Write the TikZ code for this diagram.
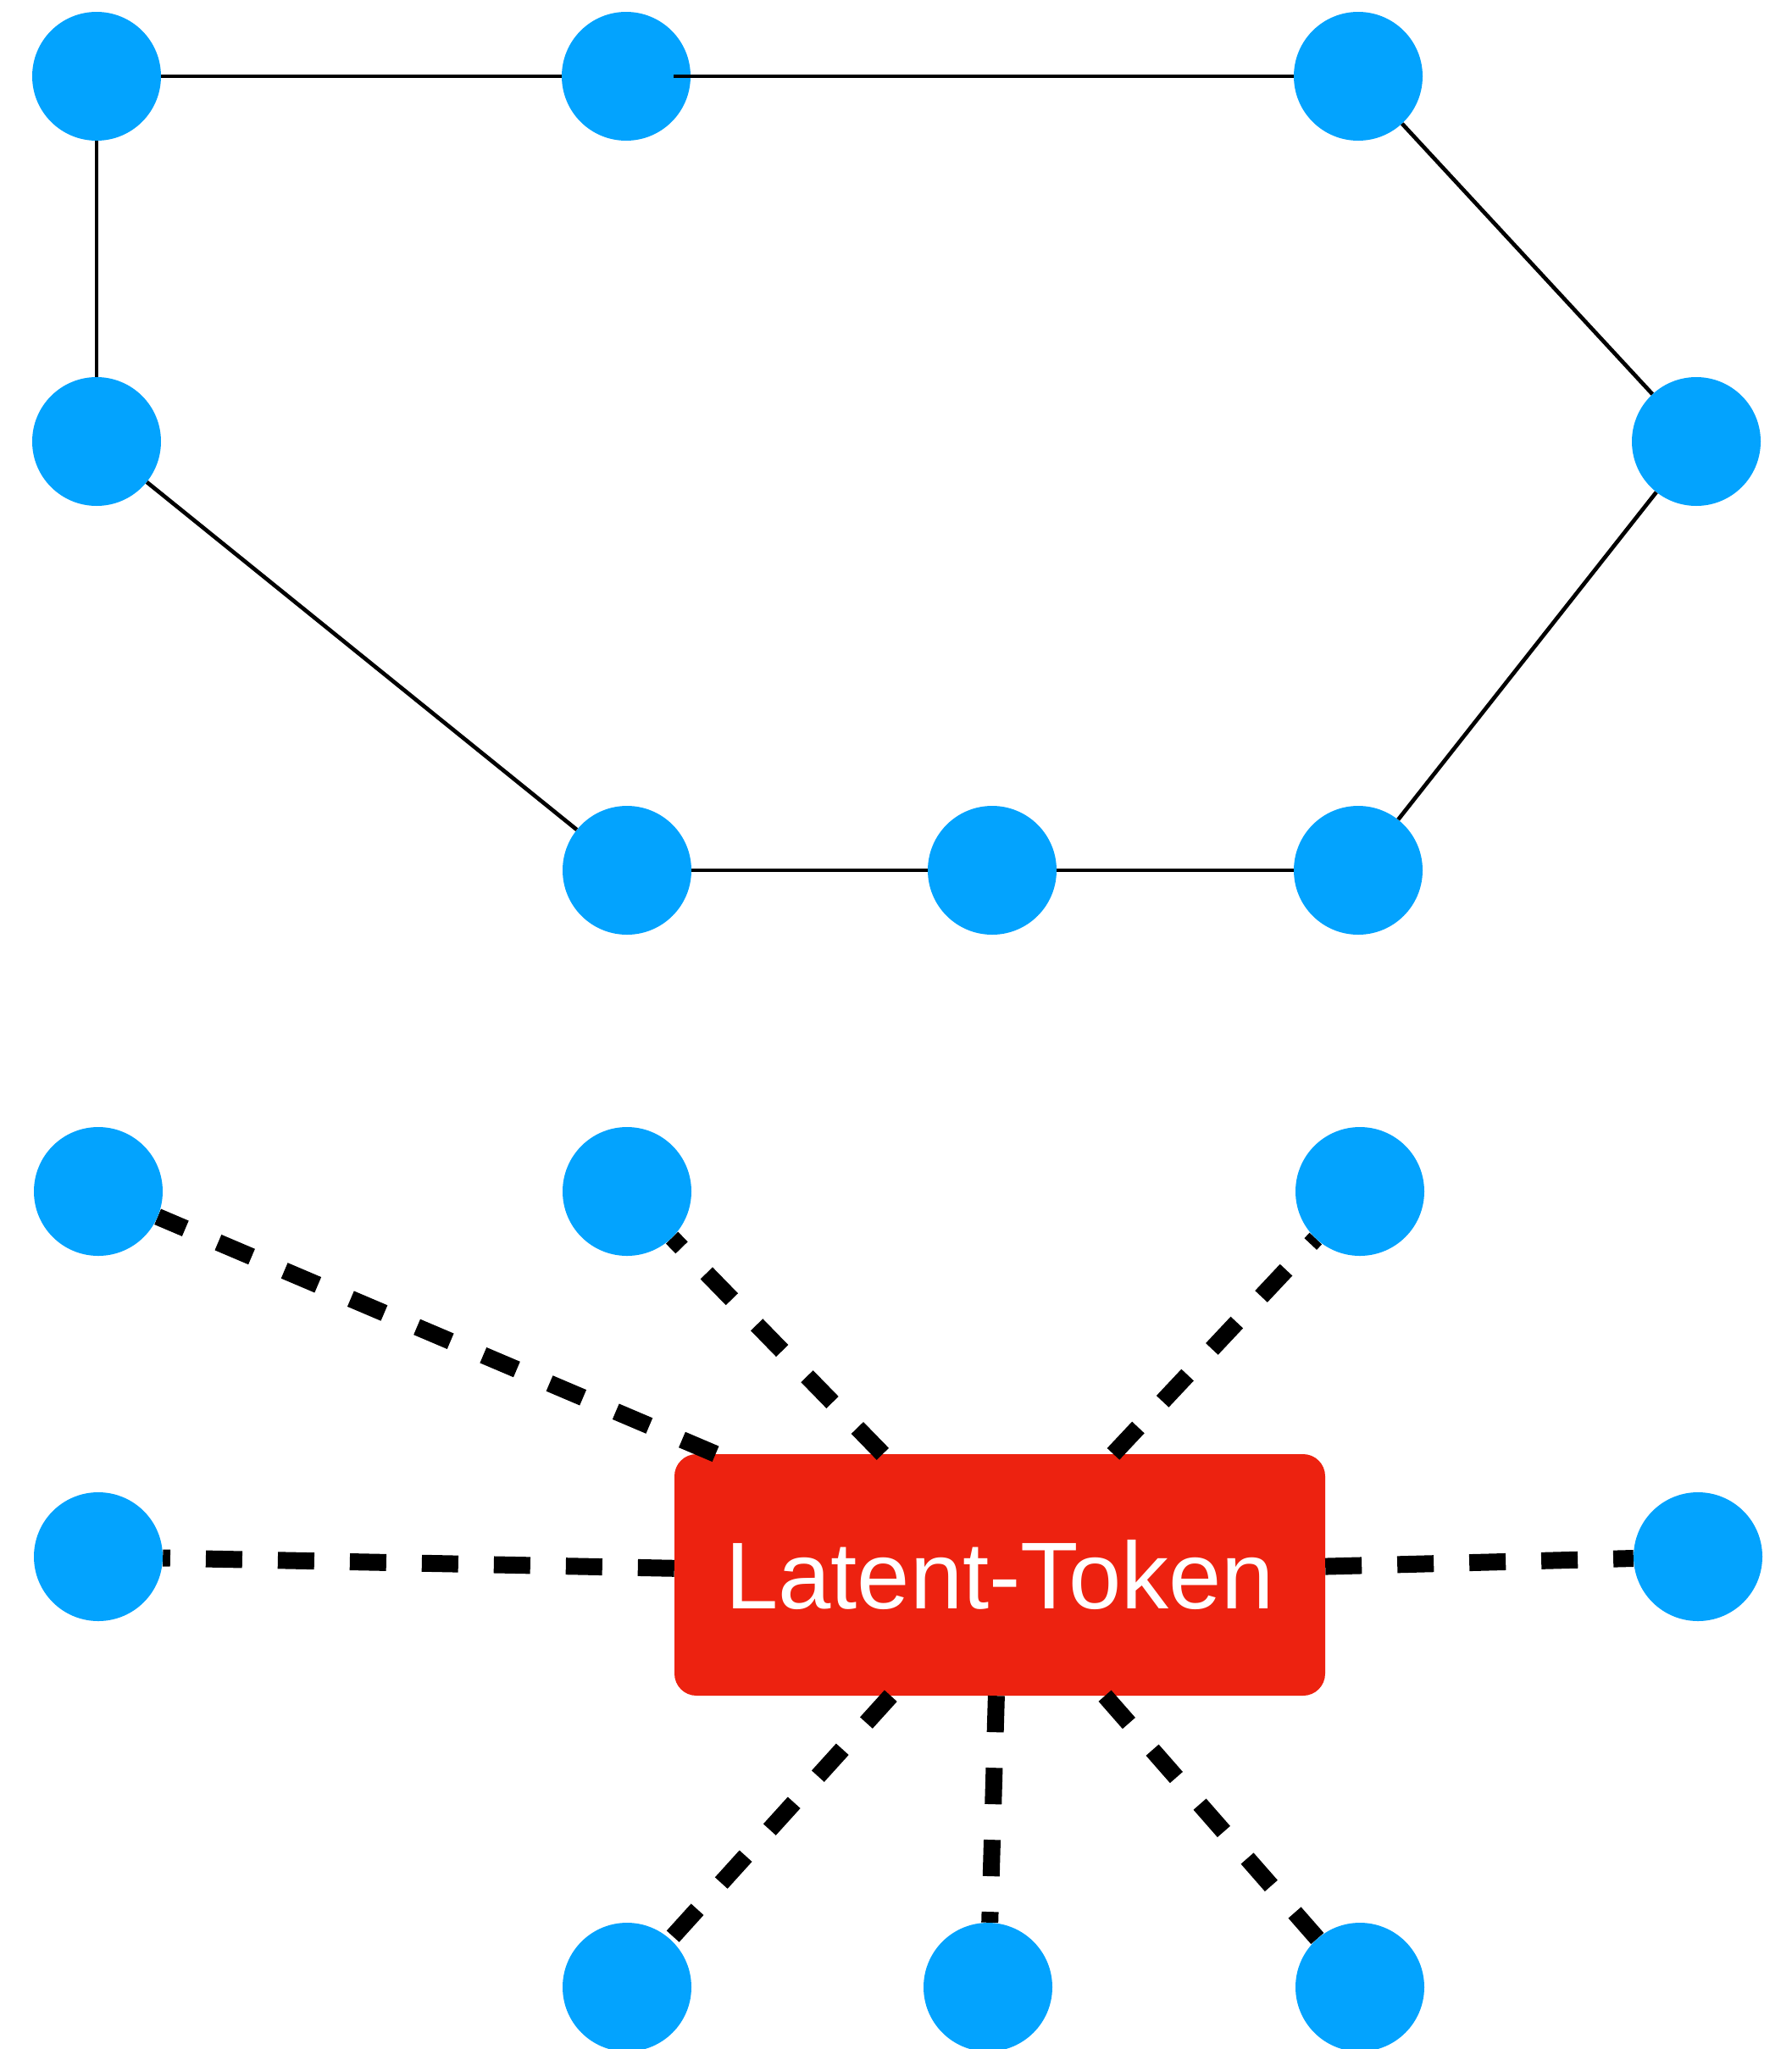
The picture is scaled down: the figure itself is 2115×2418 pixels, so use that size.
\documentclass[tikz,border=0pt]{standalone}
\usepackage{fontspec}
\setmainfont{Liberation Sans}
\usetikzlibrary{backgrounds}
\definecolor{nodeblue}{RGB}{3,163,254}
\definecolor{tokred}{RGB}{237,34,16}
\begin{document}
\begin{tikzpicture}[x=1pt,y=-1pt,
  dot/.style={circle, fill=nodeblue, minimum size=152pt, inner sep=0pt},
  edgeline/.style={line width=4.7pt, black},
  linkline/.style={line width=20pt, black, dash pattern=on 43pt off 42pt},
  token/.style={fill=tokred, rounded corners=26pt, minimum width=768pt, minimum height=285pt, inner sep=0pt, text=white, font=\fontsize{112}{134}\selectfont}]
\useasboundingbox (0,0) rectangle (2115,2418);
% top graph
\node[dot] (A) at (114,90) {};
\node[dot] (B) at (739,90) {};
\node[dot] (C) at (1603,90) {};
\node[dot] (D) at (114,521) {};
\node[dot] (E) at (2002,521) {};
\node[dot] (F) at (740,1027) {};
\node[dot] (G) at (1171,1027) {};
\node[dot] (H) at (1603,1027) {};
\draw[edgeline] (A) -- (B);
\draw[edgeline, shorten <=-20pt] (B) -- (C);
\draw[edgeline] (A) -- (D);
\draw[edgeline] (D) -- (F);
\draw[edgeline] (F) -- (G);
\draw[edgeline] (G) -- (H);
\draw[edgeline] (H) -- (E);
\draw[edgeline] (E) -- (C);
% bottom graph
\node[dot] (P1) at (116,1406) {};
\node[dot] (P2) at (740,1406) {};
\node[dot] (P3) at (1605,1406) {};
\node[dot] (P4) at (116,1837) {};
\node[dot] (P5) at (2004,1837) {};
\node[dot] (P6) at (740,2345) {};
\node[dot] (P7) at (1166,2345) {};
\node[dot] (P8) at (1605,2345) {};
\begin{scope}[on background layer]
\node[token] (T) at (1180,1858.5) {Latent-Token};
\foreach \p in {P1,P2,P3,P4,P5,P6,P7,P8} {
  \draw[linkline] (T) -- (\p);
}
\end{scope}
\end{tikzpicture}
\end{document}
